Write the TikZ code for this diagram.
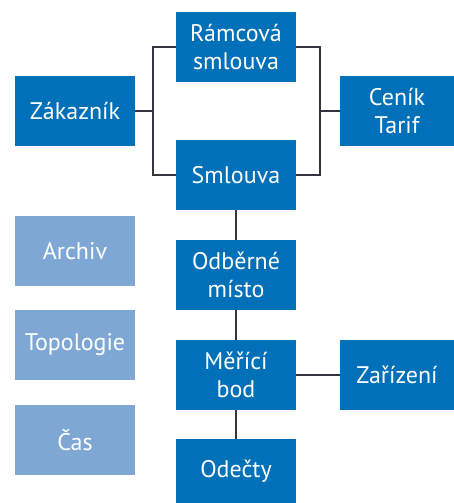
\documentclass[tikz,border=0pt]{standalone}
\usepackage{fontspec}
\setmainfont{PT Sans}
\definecolor{dblue}{HTML}{0070B8}
\definecolor{lblue}{HTML}{7FA7D3}
\definecolor{lgrey}{HTML}{35353F}
\begin{document}
\begin{tikzpicture}[x=1pt,y=-1pt,
  box/.style={fill=dblue,text=white,minimum width=120pt,minimum height=70pt,inner sep=0pt,align=center,font=\fontsize{24}{27.5}\selectfont},
  pale/.style={box,fill=lblue},
  conn/.style={draw=lgrey,line width=2.6pt}]
\useasboundingbox (0,0) rectangle (454,503);
\node[box] (ram) at (236,47) {Rámcová\\smlouva};
\node[box] (zak) at (75,111) {Zákazník};
\node[box,minimum width=114pt] (cen) at (397,111) {Ceník\\Tarif};
\node[box] (smv) at (236,175) {Smlouva};
\node[pale] (arc) at (75,251) {Archiv};
\node[box] (odb) at (236,275) {Odběrné\\místo};
\node[pale] (top) at (75,345) {Topologie};
\node[box] (mer) at (236,375) {Měřící\\bod};
\node[box,minimum width=114pt] (zar) at (397,375) {Zařízení};
\node[pale] (cas) at (75,440) {Čas};
\node[box,minimum height=64pt] (ode) at (236,471) {Odečty};
\coordinate (jl) at (153,111);
\coordinate (jr) at (320,111);
\draw[conn] (ram.west) -| (jl) |- (smv.west);
\draw[conn] (zak.east) -- (jl);
\draw[conn] (ram.east) -| (jr) |- (smv.east);
\draw[conn] (jr) -- (cen.west);
\draw[conn] (smv.south) -- (odb.north);
\draw[conn] (odb.south) -- (mer.north);
\draw[conn] (mer.south) -- (ode.north);
\draw[conn] (mer.east) -- (zar.west);
\end{tikzpicture}
\end{document}
